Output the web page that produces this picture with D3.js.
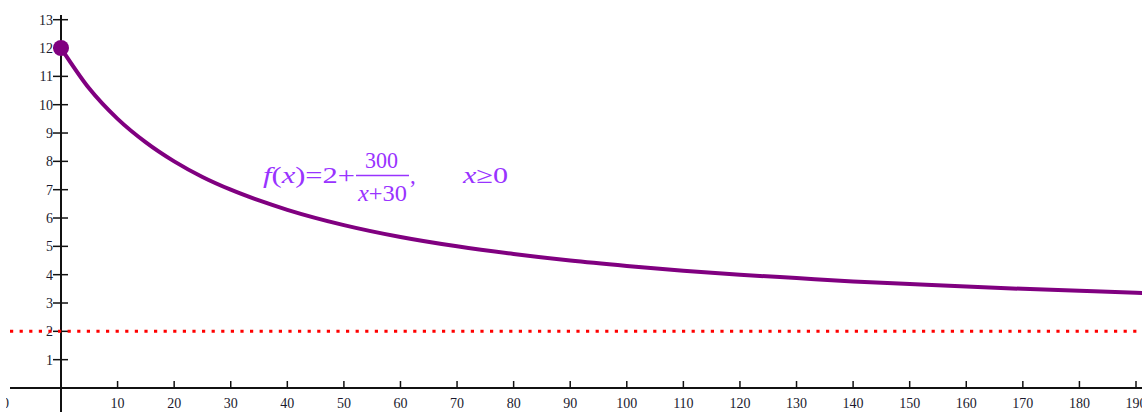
<!DOCTYPE html>
<html><head><meta charset="utf-8">
<script src="https://cdn.jsdelivr.net/npm/d3@7"></script>
<style>body{margin:0;background:#fff;}svg{display:block;}</style>
</head><body>
<script>
// Curve points
const curveX = [0,5,10,15,20,25,30,35,40,50,60,70,80,90,100,110,120,130,140,150,160,170,180,190,195];
const curveY = [12,10.57,9.5,8.67,8,7.45,7,6.62,6.29,5.75,5.33,5,4.73,4.5,4.31,4.14,4,3.88,3.76,3.67,3.58,3.5,3.43,3.36,3.33];
const asymptote = 2;
const startPoint = [0, 12];
const xTicks = [-10,10,20,30,40,50,60,70,80,90,100,110,120,130,140,150,160,170,180,190];
const yTicks = [1,2,3,4,5,6,7,8,9,10,11,12,13];

const W = 1142, H = 412;
const FONT = "Liberation Serif";
const svg = d3.select("body").append("svg").attr("width", W).attr("height", H);

svg.append("defs").append("clipPath").attr("id", "plotclip")
  .append("rect").attr("x", 6).attr("y", 0).attr("width", W - 6).attr("height", H);

const x = d3.scaleLinear().domain([0, 190]).range([61, 1136]);
const y = d3.scaleLinear().domain([0, 13]).range([388, 19.7]);

const ink = "#111";

// x axis line
svg.append("line").attr("x1", 10).attr("x2", W).attr("y1", y(0)).attr("y2", y(0))
  .attr("stroke", ink).attr("stroke-width", 2);
// y axis line
svg.append("line").attr("x1", x(0)).attr("x2", x(0)).attr("y1", 15).attr("y2", H)
  .attr("stroke", ink).attr("stroke-width", 2);

// x ticks
const xt = svg.append("g").attr("clip-path", "url(#plotclip)");
xt.selectAll("line").data(xTicks.filter(d => d > 0)).join("line")
  .attr("x1", d => x(d)).attr("x2", d => x(d))
  .attr("y1", y(0) - 7).attr("y2", y(0)).attr("stroke", ink).attr("stroke-width", 1.5);
xt.selectAll("text").data(xTicks).join("text")
  .attr("x", d => d < 0 ? x(d) + 4.5 : x(d)).attr("y", 408)
  .attr("text-anchor", d => d < 0 ? "end" : "middle")
  .attr("font-family", FONT).attr("font-size", 14).attr("fill", "#1a1a2e")
  .text(d => d < 0 ? "\u2212" + Math.abs(d) : d);

// y ticks
const yt = svg.append("g");
yt.selectAll("line").data(yTicks).join("line")
  .attr("x1", x(0) - 8).attr("x2", x(0) + 7)
  .attr("y1", d => y(d)).attr("y2", d => y(d)).attr("stroke", ink).attr("stroke-width", 1.5);
yt.selectAll("text").data(yTicks).join("text")
  .attr("x", x(0) - 8).attr("y", d => y(d) + 5).attr("text-anchor", "end")
  .attr("font-family", FONT).attr("font-size", 14).attr("fill", "#1a1a2e")
  .text(d => d);

// asymptote
svg.append("line").attr("x1", 10).attr("x2", W)
  .attr("y1", y(asymptote)).attr("y2", y(asymptote))
  .attr("stroke", "#ff0000").attr("stroke-width", 3).attr("stroke-dasharray", "3.2,6.4");

// curve
const pts = curveX.map((d, i) => [d, curveY[i]]);
svg.append("path").datum(pts)
  .attr("d", d3.line().x(d => x(d[0])).y(d => y(d[1])).curve(d3.curveMonotoneX))
  .attr("fill", "none").attr("stroke", "#800080").attr("stroke-width", 4);

svg.append("circle").attr("cx", x(startPoint[0])).attr("cy", y(startPoint[1])).attr("r", 8)
  .attr("fill", "#800080");

// formula
const fc = "#9933ff";
const fg = svg.append("g").attr("font-family", FONT).attr("font-size", 23).attr("fill", fc);
const t1 = fg.append("text").attr("x", 263).attr("y", 183)
  .attr("textLength", 92).attr("lengthAdjust", "spacingAndGlyphs");
t1.append("tspan").attr("font-style", "italic").text("f");
t1.append("tspan").text("(");
t1.append("tspan").attr("font-style", "italic").text("x");
t1.append("tspan").text(")=2+");
fg.append("text").attr("x", 365).attr("y", 168)
  .attr("textLength", 33).attr("lengthAdjust", "spacingAndGlyphs").text("300");
const t3 = fg.append("text").attr("x", 358).attr("y", 201)
  .attr("textLength", 49).attr("lengthAdjust", "spacingAndGlyphs");
t3.append("tspan").attr("font-style", "italic").text("x");
t3.append("tspan").text("+30");
fg.append("line").attr("x1", 356).attr("x2", 409).attr("y1", 175.5).attr("y2", 175.5)
  .attr("stroke", fc).attr("stroke-width", 1.3);
fg.append("text").attr("x", 410).attr("y", 183).text(",");
const t4 = fg.append("text").attr("x", 463).attr("y", 183)
  .attr("textLength", 45).attr("lengthAdjust", "spacingAndGlyphs");
t4.append("tspan").attr("font-style", "italic").text("x");
t4.append("tspan").text("\u22650");
</script>
</body></html>
